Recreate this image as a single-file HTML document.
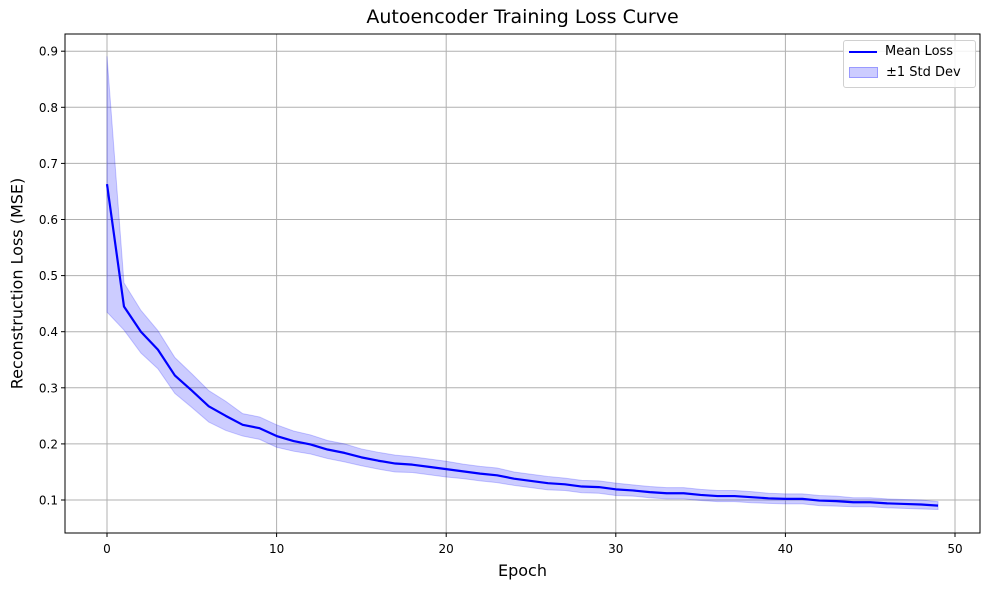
<!DOCTYPE html>
<html><head><meta charset="utf-8"><style>
body{margin:0;background:#fff;font-family:"Liberation Sans","DejaVu Sans",sans-serif}
svg text{font-family:"DejaVu Sans","Liberation Sans",sans-serif}
</style></head><body>
<svg id="c" width="989" height="590" xmlns="http://www.w3.org/2000/svg"></svg>
<script>
const epochs=[...Array(50).keys()];
const meanLoss=[0.663,0.445,0.40,0.368,0.322,0.295,0.267,0.25,0.234,0.228,0.214,0.205,0.199,0.19,0.184,0.176,0.17,0.165,0.163,0.159,0.155,0.151,0.147,0.144,0.138,0.134,0.13,0.128,0.124,0.123,0.119,0.117,0.114,0.112,0.112,0.109,0.107,0.107,0.105,0.103,0.102,0.102,0.099,0.098,0.096,0.096,0.094,0.093,0.092,0.09];
const stdLoss=[0.228,0.042,0.038,0.034,0.032,0.03,0.028,0.026,0.02,0.02,0.02,0.018,0.017,0.016,0.016,0.015,0.015,0.015,0.014,0.014,0.014,0.013,0.013,0.013,0.012,0.012,0.012,0.011,0.011,0.011,0.011,0.01,0.01,0.01,0.01,0.01,0.01,0.01,0.01,0.009,0.009,0.009,0.009,0.009,0.008,0.008,0.008,0.008,0.008,0.007];
const xTicks=[0,10,20,30,40,50];
const yTicks=[0.1,0.2,0.3,0.4,0.5,0.6,0.7,0.8,0.9];
const L=65,R=980,T=34,B=533;
const x=v=>107+v*16.96;
const y=v=>500-(v-0.1)*561;
const s=document.getElementById('c');const NS='http://www.w3.org/2000/svg';
function mk(t,a,p){const e=document.createElementNS(NS,t);for(const k in a)e.setAttribute(k,a[k]);(p||s).appendChild(e);return e;}
xTicks.forEach(t=>{const g=mk('line',{x1:x(t),x2:x(t),y1:T,y2:B,stroke:'#b0b0b0','stroke-width':1});


mk('line',{x1:x(t),x2:x(t),y1:B,y2:B+4,stroke:'#000'});
const lb=mk('text',{x:x(t),y:B+20,'text-anchor':'middle','font-size':12});lb.textContent=t;

});
yTicks.forEach(t=>{const g=mk('line',{x1:L,x2:R,y1:y(t),y2:y(t),stroke:'#b0b0b0','stroke-width':1});


mk('line',{x1:L-4,x2:L,y1:y(t),y2:y(t),stroke:'#000'});
const lb=mk('text',{x:L-7,y:y(t)+4.5,'text-anchor':'end','font-size':12});lb.textContent=t.toFixed(1);

});
let up=epochs.map(i=>x(i)+','+y(meanLoss[i]+stdLoss[i]));
let lo=epochs.slice().reverse().map(i=>x(i)+','+y(meanLoss[i]-stdLoss[i]));
const band=mk('polygon',{points:up.concat(lo).join(' '),fill:'rgba(0,0,255,0.2)',stroke:'rgba(0,0,255,0.2)'});


const line=mk('polyline',{points:epochs.map(i=>x(i)+','+y(meanLoss[i])).join(' '),fill:'none',stroke:'#0000ff','stroke-width':2.2,'stroke-linejoin':'round'});


const fr=mk('rect',{x:L,y:T,width:R-L,height:B-T,fill:'none',stroke:'#000','stroke-width':1});


</script>
<div style="position:absolute;left:0;top:6px;width:1045px;text-align:center;font-size:19px;white-space:nowrap;font-family:'DejaVu Sans',sans-serif">Autoencoder Training Loss Curve</div>
<div style="position:absolute;left:0;top:561px;width:1045px;text-align:center;font-size:16px;font-family:'DejaVu Sans',sans-serif">Epoch</div>
<div style="position:absolute;left:-133px;top:274px;width:300px;text-align:center;font-size:16px;white-space:nowrap;transform:rotate(-90deg);font-family:'DejaVu Sans',sans-serif">Reconstruction Loss (MSE)</div>
<div style="position:absolute;left:843px;top:40px;width:131px;height:46px;border:1px solid #d0d0d0;border-radius:3px;background:rgba(255,255,255,0.85);font-size:13px;font-family:'DejaVu Sans',sans-serif">
<div style="position:absolute;left:5px;top:3px"><span style="display:inline-block;width:28px;height:2px;background:#00f;vertical-align:middle;margin-right:8px"></span>Mean Loss</div>
<div style="position:absolute;left:5px;top:24px"><span style="display:inline-block;width:27px;height:9px;background:rgba(0,0,255,0.2);border:1px solid rgba(0,0,255,0.25);vertical-align:middle;margin-right:8px"></span>±1 Std Dev</div>
</div>
</body></html>
